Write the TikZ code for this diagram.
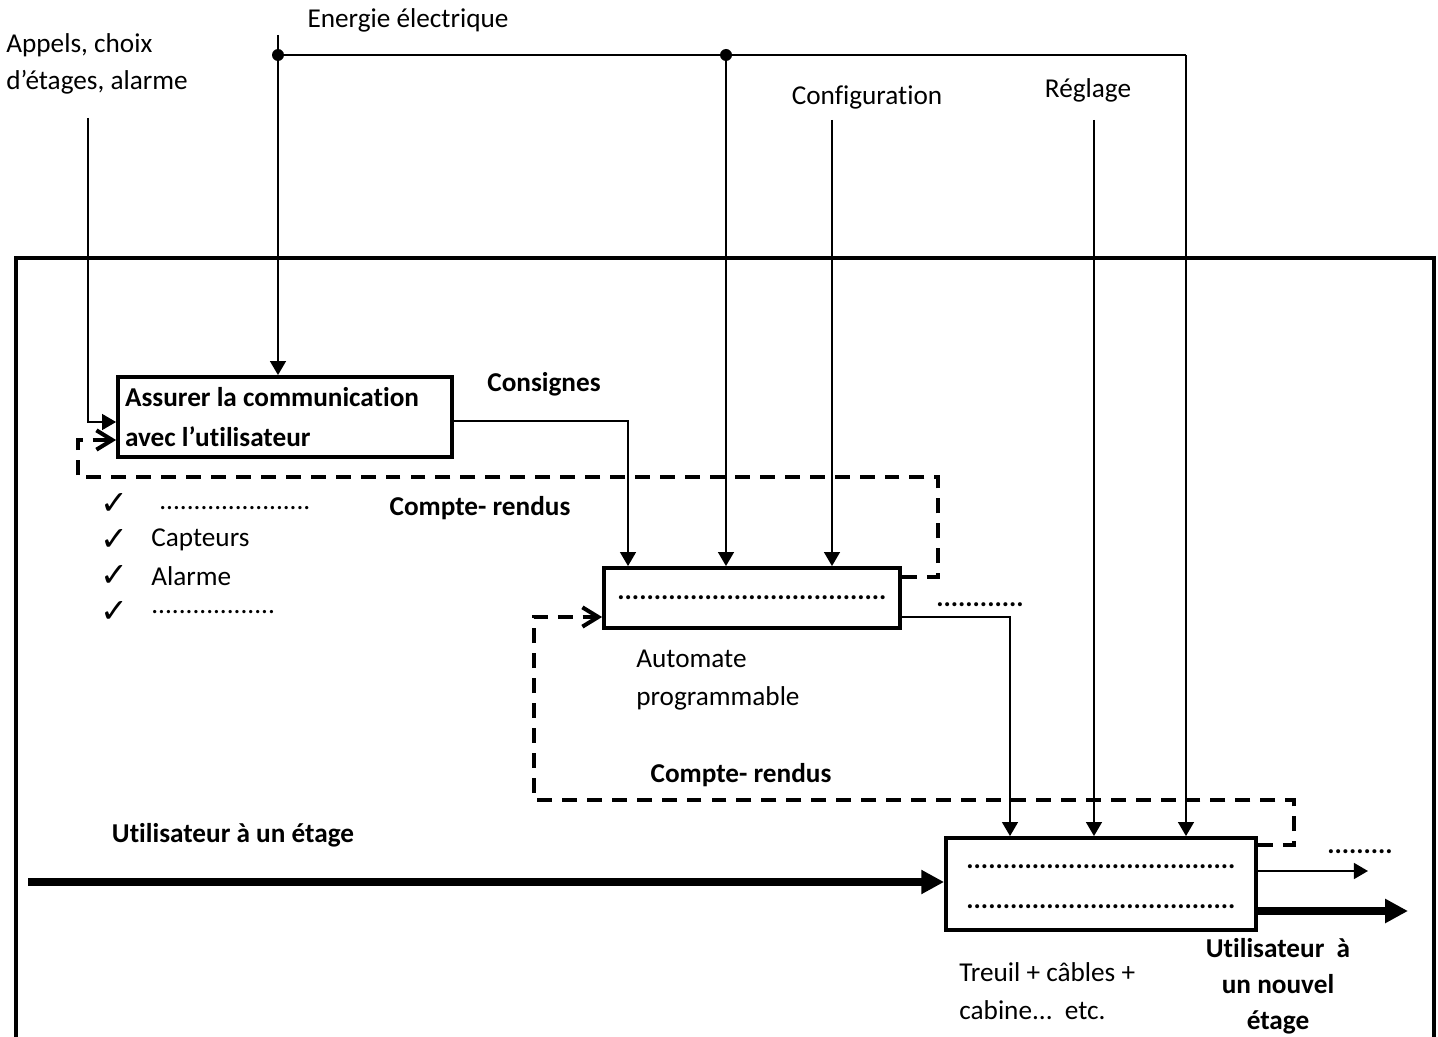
\documentclass[tikz,border=0pt]{standalone}
\usepackage{fontspec}
\setmainfont{Carlito}[Ligatures=NoCommon]
\newfontfamily\symfont{DejaVu Sans}
\usetikzlibrary{arrows.meta}

\begin{document}
\begin{tikzpicture}[
  x=0.02cm, y=-0.02cm,
  font=\fontsize{15.5}{21.5}\selectfont,
  blockbox/.style={rectangle, draw, line width=2.2pt, inner xsep=2.3pt, inner ysep=0pt},
  flow/.style={-{Triangle[length=8pt,width=9pt]}, line width=1.2pt},
  feedback/.style={-{Straight Barb[length=9pt,width=11pt]}, line width=2.3pt, dash pattern=on 8.5pt off 5.7pt},
  mainflow/.style={-{Triangle[length=13pt,width=13pt]}, line width=4.5pt},
  boldtext/.style={font=\fontsize{15.5}{20.5}\selectfont\bfseries, align=center, inner sep=0pt},
  plaintext/.style={align=left, inner sep=0pt},
  checkmark/.style={font=\symfont\fontsize{19}{19}\selectfont, inner sep=0pt}
]
  \useasboundingbox (0,0) rectangle (1438,1037);

  % Cadre (ouvert en bas)
  \draw[line width=2.2pt] (16,1037) -- (16,258) -- (1434,258) -- (1434,1037);

  % Blocs
  \node[blockbox, minimum width=6.68cm, minimum height=1.6cm, text width=6.4cm, align=flush left,
        font=\fontsize{15.5}{22.5}\selectfont\bfseries] (comm) at (285,417)
        {Assurer la communication\\avec l’utilisateur};
  \node[blockbox, minimum width=5.92cm, minimum height=1.2cm, font=\fontsize{15.5}{20}\selectfont\bfseries] (automate) at (752,598)
        {.....................................\hspace{10pt}};
  \node[blockbox, minimum width=6.2cm, minimum height=1.84cm, align=center, font=\fontsize{15.5}{22.5}\selectfont\bfseries] (treuil) at (1101,884)
        {\raisebox{-5.5pt}{.....................................}\\\raisebox{-5.5pt}{.....................................}};

  % Textes d'entree
  \node[plaintext, anchor=west] (appels) at (6,64) {Appels, choix\\d’étages, alarme};
  \node (energie) at (408,20) {Energie électrique};
  \node (config) at (867,97) {Configuration};
  \node (reglage) at (1088,90) {Réglage};

  % Points de depart
  \coordinate (appelsin) at (88,118);
  \coordinate (etop) at (278,35);
  \coordinate (ejoin) at (278,55);
  \coordinate (esplit) at (726,55);
  \coordinate (eend) at (1186,55);
  \coordinate (configin) at (832,120);
  \coordinate (reglagein) at (1094,120);
  \coordinate (userin) at (28,882);
  \coordinate (outthin) at (1368,871);
  \coordinate (outthick) at (1408,911);

  % Fleches d'entree
  \draw[flow] (appelsin) |- (comm.west |- 0,422);
  \draw[flow] (etop) -- (etop |- comm.north);
  \draw[line width=1.2pt] (ejoin) -- (eend);
  \draw[flow] (esplit) -- (esplit |- automate.north);
  \draw[flow] (eend) -- (eend |- treuil.north);
  \fill (ejoin) circle (0.12cm);
  \fill (esplit) circle (0.12cm);
  \draw[flow] (configin) -- (configin |- automate.north);
  \draw[flow] (reglagein) -- (reglagein |- treuil.north);

  % Liaisons entre blocs
  \draw[flow] (comm.east |- 0,421) -| ([xshift=-2.48cm]automate.north);
  \draw[flow] (automate.east |- 0,617) -| ([xshift=-1.82cm]treuil.north);
  \draw[feedback] (automate.east |- 0,577) -- (938,577) -- (938,477) -- (78,477) -- (78,440) -- (comm.west |- 0,440);
  \draw[feedback] (treuil.east |- 0,845) -- (1294,845) -- (1294,800) -- (534,800) -- (534,617) -- (automate.west |- 0,617);

  % Flux principal
  \draw[mainflow] (userin) -- (treuil.west |- userin);
  \draw[flow] (treuil.east |- outthin) -- (outthin);
  \draw[mainflow] (treuil.east |- outthick) -- (outthick);

  % Etiquettes
  \node[boldtext] (consignes) at (544,384) {Consignes};
  \node[boldtext] (cr1) at (480,508) {Compte- rendus};
  \node[boldtext] (cr2) at (741,775) {Compte- rendus};
  \node[boldtext] (sortie1) at (980,605) {............};
  \node[boldtext] (sortie2) at (1360,852) {.........};
  \node[boldtext] (usager) at (233,835) {Utilisateur à un étage};
  \node[boldtext] (usager2) at (1278,986) {Utilisateur\ \ à\\un nouvel\\étage};
  \node[plaintext, anchor=west] (treuiltxt) at (959,991) {Treuil + câbles +\\cabine...\ \ etc.};
  \node[plaintext, anchor=west] (automatetxt) at (636,680) {Automate\\programmable};

  % Liste
  \node[checkmark] (chk1) at (114,504) {✓};
  \node[checkmark] (chk2) at (114,540) {✓};
  \node[checkmark] (chk3) at (114,576) {✓};
  \node[checkmark] (chk4) at (114,612) {✓};
  \node[plaintext, anchor=west] (item1) at (159,508) {......................};
  \node[plaintext, anchor=west] (item2) at (151,540) {Capteurs};
  \node[plaintext, anchor=west] (item3) at (151,576) {Alarme};
  \node[plaintext, anchor=west] (item4) at (151,612) {..................};
\end{tikzpicture}
\end{document}
